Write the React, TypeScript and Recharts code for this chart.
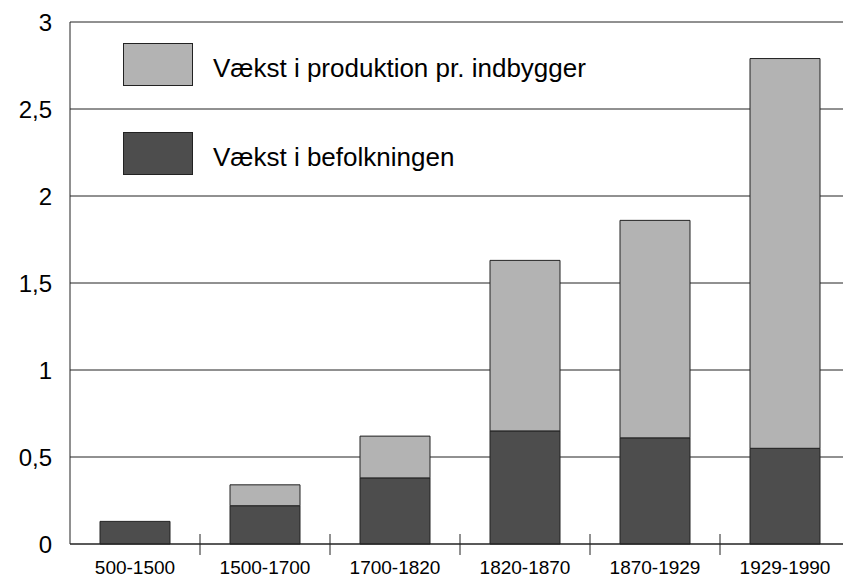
import { BarChart, Bar, XAxis, YAxis, CartesianGrid } from "recharts";

const periods = ["500-1500", "1500-1700", "1700-1820", "1820-1870", "1870-1929", "1929-1990"];
const populationGrowth = [0.13, 0.22, 0.38, 0.65, 0.61, 0.55];
const productionPerCapita = [0, 0.12, 0.24, 0.98, 1.25, 2.24];
const yTicks = [0, 0.5, 1, 1.5, 2, 2.5, 3];

const series = [
  { key: "production", label: "Vækst i produktion pr. indbygger", color: "#b3b3b3" },
  { key: "population", label: "Vækst i befolkningen", color: "#4d4d4d" },
];

const data = periods.map((p, i) => ({
  period: p,
  population: populationGrowth[i],
  production: productionPerCapita[i],
}));

const FONT = "'Liberation Sans', Arial, sans-serif";
const INK = "#222";

// x tick: label under the bar plus a small divider at the right edge of the band
const PeriodTick = (props: any) => {
  const { x, y, payload, index, width, visibleTicksCount } = props;
  const half = payload?.offset || width / visibleTicksCount / 2;
  const isLast = index === visibleTicksCount - 1;
  return (
    <g>
      <text
        x={x}
        y={y + 23}
        textAnchor="middle"
        dominantBaseline="central"
        fontSize={19}
        fontFamily={FONT}
        fill="#000"
      >
        {payload.value}
      </text>
      {!isLast && <line x1={x + half} x2={x + half} y1={y - 10} y2={y + 11} stroke={INK} strokeWidth={1} />}
    </g>
  );
};

export default function App() {
  return (
    <div style={{ position: "absolute", left: 0, top: 0, width: 843, height: 579, overflow: "hidden", background: "#fff" }}>
      <BarChart width={850} height={579} data={data} margin={{ top: 22, right: 0, bottom: 5, left: 0 }} barSize={70}>
        <CartesianGrid vertical={false} stroke={INK} strokeWidth={1} />
        <XAxis
          dataKey="period"
          height={30}
          tickLine={false}
          tickSize={0}
          tickMargin={0}
          axisLine={{ stroke: INK }}
          tick={PeriodTick}
          interval={0}
        />
        <YAxis
          width={70}
          domain={[0, 3]}
          ticks={yTicks}
          tickLine={false}
          tickSize={0}
          tickMargin={18}
          axisLine={{ stroke: INK }}
          tickFormatter={(v: number) => String(v).replace(".", ",")}
          tick={{ fontSize: 24, fontFamily: FONT, fill: "#000" }}
        />
        <Bar
          dataKey="population"
          name={series[1].label}
          stackId="a"
          fill={series[1].color}
          stroke={INK}
          strokeWidth={1}
          isAnimationActive={false}
        />
        <Bar
          dataKey="production"
          name={series[0].label}
          stackId="a"
          fill={series[0].color}
          stroke={INK}
          strokeWidth={1}
          isAnimationActive={false}
        />
      </BarChart>
      {/* legend sits over the plot, on top of the gridlines */}
      <div style={{ position: "absolute", left: 123, top: 43, fontFamily: FONT }}>
        {series.map((s) => (
          <div key={s.key} style={{ display: "flex", alignItems: "center", height: 43, marginBottom: 46 }}>
            <div style={{ width: 68, height: 41, background: s.color, border: `1px solid ${INK}` }} />
            <span style={{ marginLeft: 20, fontSize: 26, color: "#000", position: "relative", top: 4, whiteSpace: "nowrap" }}>
              {s.label}
            </span>
          </div>
        ))}
      </div>
    </div>
  );
}
